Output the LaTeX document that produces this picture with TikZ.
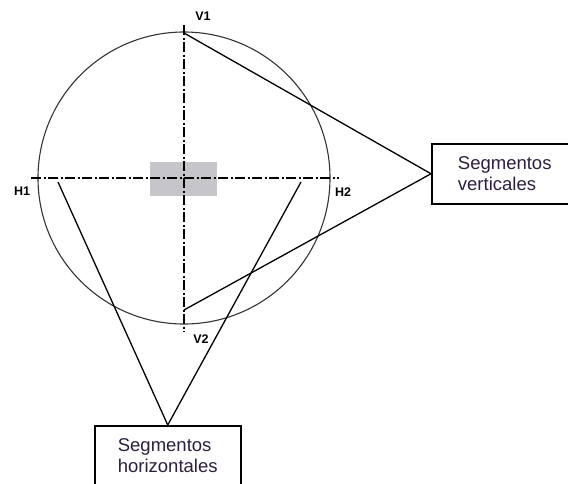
\documentclass[tikz,border=0pt]{standalone}
\usepackage{fontspec}
\setmainfont{Liberation Sans}
\usepackage{tikz}
\usetikzlibrary{calc,positioning}
\definecolor{BoxText}{RGB}{45,30,60}
\definecolor{CenterGray}{RGB}{198,198,202}

\begin{document}
\begin{tikzpicture}[x=1pt,y=-1pt,
  axisline/.style={line width=1.8pt,dash pattern=on 10pt off 2.5pt on 2pt off 2.5pt},
  link/.style={line width=1.3pt},
  textbox/.style={draw,line width=1.5pt,align=left,text=BoxText,inner xsep=16pt,
    font=\fontsize{18.5}{21}\selectfont},
  ptlabel/.style={font=\bfseries\fontsize{12.5}{12.5}\selectfont,inner sep=0pt}]
\useasboundingbox (0,0) rectangle (568,483);
\clip (0,0) rectangle (568,483);
\fill[CenterGray] (150,162) rectangle (217,196);
\draw[line width=1.1pt,black!80] (184,178) circle (146);
\draw[axisline] (184,25)--(184,332);
\draw[axisline] (31,178)--(339,178);
\node[ptlabel] (v1) at (203,16) {V1};
\node[ptlabel] (v2) at (201,339) {V2};
\node[ptlabel] (h1) at (22,191) {H1};
\node[ptlabel] (h2) at (343,192) {H2};
\coordinate (pv1) at (184,33);
\coordinate (pv2) at (184,310);
\coordinate (ph1) at (58,182);
\coordinate (ph2) at (301,182);
\node[textbox,anchor=north west,minimum width=146pt,minimum height=60pt]
  (vert) at (431,143) {Segmentos\\verticales};
\node[textbox,anchor=north west,minimum width=146pt,minimum height=60pt]
  (horiz) at (94,425) {Segmentos\\horizontales};
\draw[link] (pv1)--(vert.west);
\draw[link] (pv2)--(vert.west);
\draw[link] (ph1)--(horiz.north);
\draw[link] (ph2)--(horiz.north);
\end{tikzpicture}
\end{document}
